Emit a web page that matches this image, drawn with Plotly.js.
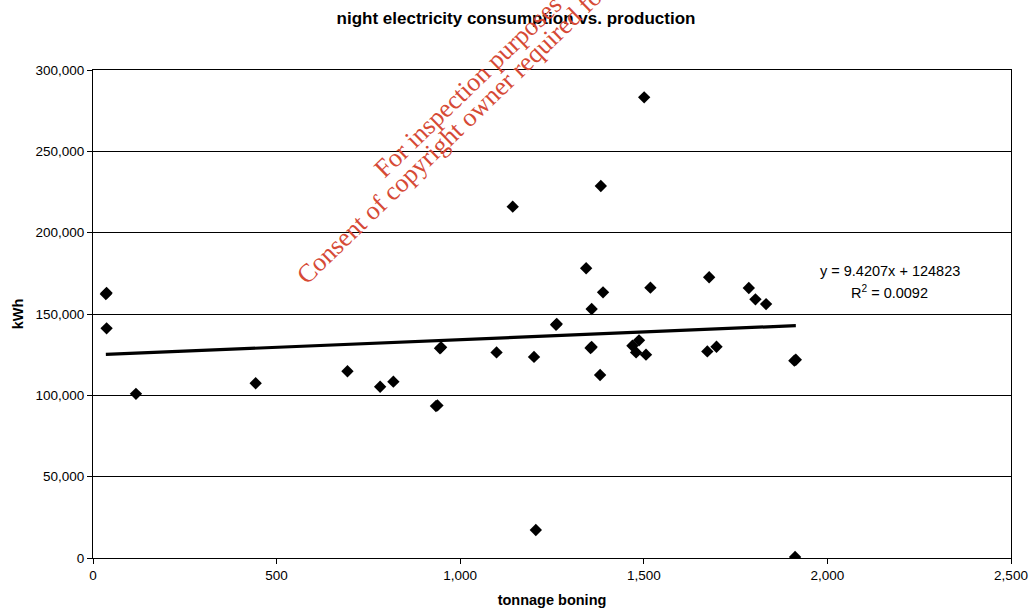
<!DOCTYPE html>
<html>
<head>
<meta charset="utf-8">
<script src="https://cdn.plot.ly/plotly-3.0.1.min.js"></script>
<style>html,body{margin:0;padding:0;background:#fff;}#chart{width:1032px;height:612px;}</style>
</head>
<body>
<div id="chart"></div>
<script>
// tonnage boning (x) and night electricity kWh (y)
var tonnage = [35, 37, 37, 117, 443, 693, 782, 818, 934, 938, 945, 948, 1099, 1143, 1201, 1206,
  1261, 1263, 1343, 1355, 1358, 1358, 1381, 1383, 1389, 1469, 1479, 1487, 1501, 1506, 1518,
  1673, 1678, 1698, 1786, 1804, 1833, 1910, 1914, 1912];
var kwh = [162300, 162900, 141200, 100900, 107400, 114800, 105300, 108400, 93400, 93800, 128900, 129500,
  126400, 216000, 123600, 17200, 143400, 143900, 178100, 129100, 129700, 153100, 112500, 228700, 163300,
  130500, 126400, 133800, 283200, 125000, 166200, 127000, 172600, 129900, 166000, 159000, 156100,
  121300, 121900, 600];
var trendSlope = 9.4207;
var trendIntercept = 124823;
var trendText = ["y = 9.4207x + 124823", "R<sup>2</sup> = 0.0092"];
var titleText = "night electricity consumption vs. production";
var xTitle = "tonnage boning";
var yTitle = "kWh";
var watermark = ["For inspection purposes only.", "Consent of copyright owner required for any other use."];

var xMin = Math.min.apply(null, tonnage), xMax = Math.max.apply(null, tonnage);
var trendX = [xMin, xMax];
var trendY = trendX.map(function (v) { return trendSlope * v + trendIntercept; });

var traces = [
  {x: trendX, y: trendY, mode: 'lines', type: 'scatter', line: {color: '#000', width: 3.2}, hoverinfo: 'skip'},
  {x: tonnage, y: kwh, mode: 'markers', type: 'scatter',
   marker: {symbol: 'diamond', size: 9.5, color: '#000', line: {width: 0}}}
];

var wmFont = {family: 'Liberation Serif, Times New Roman, serif', size: 26, color: 'rgb(214,74,54)'};
var layout = {
  width: 1032, height: 612,
  margin: {l: 93, r: 21, t: 70, b: 54},
  paper_bgcolor: '#fff', plot_bgcolor: '#fff',
  showlegend: false,
  font: {family: 'Liberation Sans, Arial, sans-serif', size: 13.5, color: '#000'},
  title: {text: '<b>' + titleText + '</b>', x: 0.5, xref: 'container', y: 0.97, yanchor: 'middle',
          font: {family: 'Liberation Sans, Arial, sans-serif', size: 17, color: '#000'}},
  xaxis: {range: [0, 2500], dtick: 500, tickformat: ',d', showgrid: false, zeroline: false,
          showline: true, linecolor: '#000', linewidth: 1, mirror: true,
          ticks: 'outside', ticklen: 5, tickcolor: '#000',
          tickfont: {size: 13.5},
          title: {text: '<b>' + xTitle + '</b>', standoff: 12, font: {size: 14.5}}},
  yaxis: {range: [0, 300000], dtick: 50000, tickformat: ',d', showgrid: true, gridcolor: '#000', gridwidth: 1,
          zeroline: false, showline: true, linecolor: '#000', linewidth: 1, mirror: true,
          ticks: 'outside', ticklen: 5, tickcolor: '#000',
          tickfont: {size: 13.5},
          title: {text: '<b>' + yTitle + '</b>', standoff: 8, font: {size: 14.5}}},
  annotations: [
    {xref: 'paper', yref: 'paper', x: 0.868, y: 0.588, text: trendText[0], showarrow: false,
     xanchor: 'center', yanchor: 'middle', font: {size: 14.5}},
    {xref: 'paper', yref: 'paper', x: 0.868, y: 0.545, text: trendText[1], showarrow: false,
     xanchor: 'center', yanchor: 'middle', font: {size: 14.5}},
    {xref: 'paper', yref: 'paper', x: 0.4313, y: 1.0063, text: watermark[0], showarrow: false,
     textangle: -44, xanchor: 'center', yanchor: 'middle', font: wmFont},
    {xref: 'paper', yref: 'paper', x: 0.451, y: 0.9776, text: watermark[1], showarrow: false,
     textangle: -44, xanchor: 'center', yanchor: 'middle', font: wmFont}
  ]
};
Plotly.newPlot('chart', traces, layout, {staticPlot: true, displayModeBar: false});
</script>
</body>
</html>
